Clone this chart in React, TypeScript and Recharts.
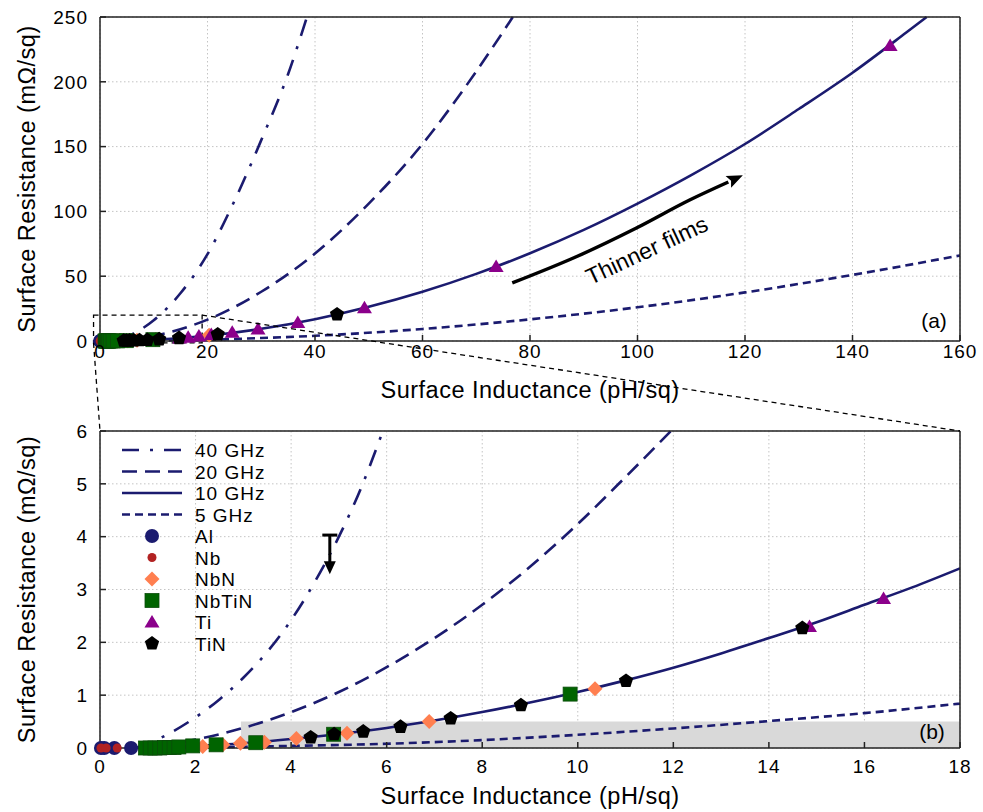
import React from 'react';
import {
  ComposedChart,
  Line,
  Scatter,
  XAxis,
  YAxis,
  CartesianGrid,
  ReferenceArea,
  ReferenceLine,
  ReferenceDot,
} from 'recharts';

const NAVY = '#1b1b6f';
const AXIS = '#222';
const FONT = '"Liberation Sans", Arial, Helvetica, sans-serif';

// model curves, panel (a): L in pH/sq, R in mOhm/sq
const topL40 = [0.8, 5, 10, 15, 20, 25, 30, 35, 38.5];
const topR40 = [0, 3.5, 16, 37, 67, 108, 155, 206, 250];
const topL20 = [0.8, 10, 20, 30, 40, 50, 60, 70, 76.8];
const topR20 = [0, 4, 16.5, 38, 67.5, 106, 152, 208, 250];
const topL10 = [0.7, 10, 20, 30, 40, 50, 60, 70, 80, 90, 100, 110, 120, 130, 140, 150, 153.8];
const topR10 = [0, 1, 4.1, 9.4, 16.8, 26.4, 38, 51.8, 67.7, 85.7, 106, 128, 152, 179, 207, 238, 250];
const topL5 = [0.75, 10, 20, 30, 40, 60, 80, 100, 120, 140, 160];
const topR5 = [0, 0.25, 1, 2.3, 4, 9.3, 16.7, 26, 37.5, 51, 66];

// model curves, panel (b)
const botL40 = [0.75, 1, 1.5, 2, 2.5, 3, 3.5, 4, 4.5, 5, 5.5, 5.92];
const botR40 = [0, 0.08, 0.3, 0.58, 0.92, 1.33, 1.82, 2.42, 3.15, 4.0, 5.0, 6];
const botL20 = [0.75, 1, 2, 3, 4, 5, 6, 7, 8, 9, 10, 11, 11.95];
const botR20 = [0, 0.03, 0.16, 0.38, 0.68, 1.06, 1.53, 2.08, 2.71, 3.43, 4.24, 5.13, 6];
const botL10 = [0.65, 1, 2, 3, 4, 5, 6, 7, 8, 9, 10, 11, 12, 13, 14, 15, 16, 17, 18];
const botR10 = [0, 0.01, 0.04, 0.09, 0.17, 0.265, 0.38, 0.52, 0.68, 0.86, 1.06, 1.28, 1.52, 1.79, 2.08, 2.38, 2.71, 3.04, 3.4];
const botL5 = [0.75, 2, 4, 6, 8, 10, 12, 14, 16, 18];
const botR5 = [0, 0.01, 0.04, 0.08, 0.15, 0.25, 0.37, 0.51, 0.66, 0.84];

// measured films
const alL = [0.02, 0.09, 0.3, 0.65];
const alR = [0, 0, 0, 0];
const nbL = [0.02, 0.13, 0.36];
const nbR = [0, 0, 0];
const nbnL = [2.15, 2.57, 2.94, 3.44, 4.11, 5.17, 6.89, 10.36, 20.3];
const nbnR = [0.03, 0.06, 0.09, 0.11, 0.18, 0.28, 0.5, 1.12, 4.4];
const nbtinL = [0.95, 1.05, 1.15, 1.25, 1.35, 1.45, 1.55, 1.65, 1.94, 2.43, 3.26, 4.89, 9.84];
const nbtinR = [0, 0, 0, 0, 0.01, 0.01, 0.01, 0.02, 0.04, 0.06, 0.1, 0.26, 1.02];
const tiL = [14.85, 16.4, 18.4, 20.7, 24.6, 29.4, 36.8, 49.2, 73.7, 147];
const tiR = [2.3, 2.83, 3.9, 5.0, 6.8, 9.2, 14.3, 25.7, 57.5, 228];
const tinL = [4.41, 4.9, 5.51, 6.29, 7.34, 8.81, 11.01, 14.7, 21.9, 44.1];
const tinR = [0.2, 0.26, 0.31, 0.4, 0.56, 0.81, 1.27, 2.27, 5.1, 20.5];

// "Thinner films" arrow
const arrowL = [76.7, 88.6, 99.8, 109.7, 116.9];
const arrowR = [44.8, 65, 87.2, 108.8, 122.7];

const xTicksTop = [0, 20, 40, 60, 80, 100, 120, 140, 160];
const yTicksTop = [0, 50, 100, 150, 200, 250];
const xTicksBot = [0, 2, 4, 6, 8, 10, 12, 14, 16, 18];
const yTicksBot = [0, 1, 2, 3, 4, 5, 6];

type Pt = { l: number; r: number };
const zip = (ls: number[], rs: number[]): Pt[] => ls.map((l, i) => ({ l, r: rs[i] }));

const curveStyles = [
  { name: '40 GHz', dash: '17 11 3 11' },
  { name: '20 GHz', dash: '15 8' },
  { name: '10 GHz', dash: undefined as string | undefined },
  { name: '5 GHz', dash: '8 5' },
];
const topCurves = [zip(topL40, topR40), zip(topL20, topR20), zip(topL10, topR10), zip(topL5, topR5)];
const botCurves = [zip(botL40, botR40), zip(botL20, botR20), zip(botL10, botR10), zip(botL5, botR5)];

const materials = [
  { name: 'Al', kind: 'circle', color: NAVY, data: zip(alL, alR) },
  { name: 'Nb', kind: 'dot', color: '#b22222', data: zip(nbL, nbR) },
  { name: 'NbN', kind: 'diamond', color: '#ff7f50', data: zip(nbnL, nbnR) },
  { name: 'NbTiN', kind: 'square', color: '#006400', data: zip(nbtinL, nbtinR) },
  { name: 'Ti', kind: 'triangle', color: '#8b008b', data: zip(tiL, tiR) },
  { name: 'TiN', kind: 'pentagon', color: '#000000', data: zip(tinL, tinR) },
];

function marker(kind: string, color: string, cx: number, cy: number) {
  switch (kind) {
    case 'circle':
      return <circle cx={cx} cy={cy} r={7} fill={color} />;
    case 'dot':
      return <circle cx={cx} cy={cy} r={4.5} fill={color} />;
    case 'diamond':
      return (
        <polygon
          points={`${cx},${cy - 7.5} ${cx + 7.5},${cy} ${cx},${cy + 7.5} ${cx - 7.5},${cy}`}
          fill={color}
        />
      );
    case 'square':
      return <rect x={cx - 7} y={cy - 7} width={14} height={14} fill={color} stroke="#0a4d0a" strokeWidth={0.8} />;
    case 'triangle':
      return <polygon points={`${cx},${cy - 7} ${cx + 7.5},${cy + 5.5} ${cx - 7.5},${cy + 5.5}`} fill={color} />;
    default: {
      const pts = [0, 1, 2, 3, 4]
        .map((i) => {
          const a = ((-90 + i * 72) * Math.PI) / 180;
          return `${cx + 7.5 * Math.cos(a)},${cy + 7.5 * Math.sin(a)}`;
        })
        .join(' ');
      return <polygon points={pts} fill={color} />;
    }
  }
}

const tickStyle = { fontSize: 19, fill: '#000', letterSpacing: 1 };
const titleStyle = { fontSize: 23.5, fill: '#000', letterSpacing: 0.5 };

type PanelProps = {
  height: number;
  top: number;
  xAxisHeight: number;
  xTickMargin: number;
  titleOffset: number;
  xDomain: [number, number];
  yDomain: [number, number];
  xTicks: number[];
  yTicks: number[];
  curves: Pt[][];
  keep: (p: Pt) => boolean;
  before?: React.ReactNode;
  children?: React.ReactNode;
};

function Panel(p: PanelProps) {
  return (
    <ComposedChart width={983} height={p.height} margin={{ top: p.top, right: 22, bottom: 0, left: 0 }}>
      {p.before}
      <CartesianGrid stroke="#c4c4c4" strokeDasharray="1.5 2.5" />
      <XAxis
        dataKey="l"
        type="number"
        domain={p.xDomain}
        ticks={p.xTicks}
        interval={0}
        height={p.xAxisHeight}
        stroke={AXIS}
        strokeWidth={1.5}
        tickSize={-6}
        tickMargin={p.xTickMargin}
        tick={tickStyle}
        label={{ value: 'Surface Inductance (pH/sq)', position: 'insideBottom', offset: p.titleOffset, ...titleStyle }}
      />
      <YAxis
        type="number"
        domain={p.yDomain}
        ticks={p.yTicks}
        interval={0}
        width={100}
        stroke={AXIS}
        strokeWidth={1.5}
        tickSize={-6}
        tickMargin={18}
        tick={tickStyle}
        label={{
          value: 'Surface Resistance (m\u03a9/sq)',
          angle: -90,
          position: 'insideLeft',
          offset: 27,
          style: { textAnchor: 'middle' },
          ...titleStyle,
        }}
      />
      <XAxis
        xAxisId="mirror"
        orientation="top"
        type="number"
        domain={p.xDomain}
        ticks={p.xTicks}
        interval={0}
        height={1}
        tick={false}
        tickSize={-6}
        stroke={AXIS}
        strokeWidth={1.5}
        allowDataOverflow
      />
      <YAxis
        yAxisId="mirror"
        orientation="right"
        type="number"
        domain={p.yDomain}
        ticks={p.yTicks}
        interval={0}
        width={1}
        tick={false}
        tickSize={-6}
        stroke={AXIS}
        strokeWidth={1.5}
        allowDataOverflow
      />
      {p.curves.map((c, i) => (
        <Line
          key={curveStyles[i].name}
          data={c}
          dataKey="r"
          type="monotone"
          stroke={NAVY}
          strokeWidth={2.6}
          strokeDasharray={curveStyles[i].dash}
          dot={false}
          activeDot={false}
          isAnimationActive={false}
        />
      ))}
      {p.children}
      {materials.map((m) => (
        <Scatter
          key={m.name}
          data={m.data.filter(p.keep)}
          dataKey="r"
          shape={(s: any) => marker(m.kind, m.color, s.cx, s.cy)}
          isAnimationActive={false}
        />
      ))}
    </ComposedChart>
  );
}

const limitShape = (s: any) => {
  const { x1, y1, x2, y2 } = s;
  return (
    <g>
      <line x1={x1} y1={y1} x2={x2} y2={y2 - 10} stroke="#000" strokeWidth={3} />
      <line x1={x1 - 7.5} y1={y1} x2={x1 + 7.5} y2={y1} stroke="#000" strokeWidth={3} />
      <polygon points={`${x2 - 6},${y2 - 13} ${x2 + 6},${y2 - 13} ${x2},${y2}`} fill="#000" />
    </g>
  );
};

const arrowHead = (s: any) => {
  if (s.index !== arrowL.length - 1) return <g key={`a${s.index}`} />;
  const { cx, cy } = s;
  return (
    <polygon
      key="head"
      transform={`rotate(-25 ${cx} ${cy})`}
      points={`${cx + 16},${cy} ${cx},${cy - 6.5} ${cx + 3},${cy} ${cx},${cy + 6.5}`}
      fill="#000"
    />
  );
};

// page layout of panel (a) plot area, used for the zoom connectors
const topX = (l: number) => 100 + (l / 160) * 860;
const topY = (r: number) => 17 + (1 - r / 250) * 324;

function Overlay() {
  const rowY = (i: number) => 450 + i * 21.5;
  return (
    <svg
      width={983}
      height={812}
      style={{ position: 'absolute', left: 0, top: 0, pointerEvents: 'none', fontFamily: FONT }}
    >
      <line x1={topX(-1.2)} y1={topY(-1.5)} x2={100} y2={431} stroke="#000" strokeWidth={1.3} strokeDasharray="5 4" />
      <line x1={topX(19)} y1={topY(20)} x2={960} y2={431} stroke="#000" strokeWidth={1.3} strokeDasharray="5 4" />
      <text x={934} y={327.5} fontSize={21} textAnchor="middle">(a)</text>
      <text x={932} y={739} fontSize={21} textAnchor="middle">(b)</text>
      {curveStyles.map((c, i) => (
        <g key={c.name}>
          <line x1={122} y1={rowY(i)} x2={182} y2={rowY(i)} stroke={NAVY} strokeWidth={2.6} strokeDasharray={c.dash} />
          <text x={195} y={rowY(i) + 7} fontSize={19} letterSpacing={1}>{c.name}</text>
        </g>
      ))}
      {materials.map((m, j) => {
        const y = rowY(j + curveStyles.length);
        return (
          <g key={m.name}>
            {marker(m.kind, m.color, 152, y)}
            <text x={195} y={y + 7} fontSize={19} letterSpacing={1}>{m.name}</text>
          </g>
        );
      })}
    </svg>
  );
}

export default function App() {
  return (
    <div style={{ position: 'absolute', left: 0, top: 0, width: 983, height: 812, background: '#fff', fontFamily: FONT }}>
      <div style={{ position: 'absolute', left: 0, top: 0 }}>
        <Panel
          height={410}
          top={16}
          xAxisHeight={69}
          xTickMargin={10}
          titleOffset={12}
          xDomain={[0, 160]}
          yDomain={[0, 250]}
          xTicks={xTicksTop}
          yTicks={yTicksTop}
          curves={topCurves}
          keep={() => true}
        >
          <ReferenceArea
            x1={-1.2}
            x2={19}
            y1={-1.5}
            y2={20}
            ifOverflow="visible"
            fill="none"
            stroke="#000"
            strokeWidth={1.3}
            strokeDasharray="5 4"
          />
          <Line
            data={zip(arrowL, arrowR)}
            dataKey="r"
            type="monotone"
            stroke="#000"
            strokeWidth={3.5}
            dot={arrowHead}
            activeDot={false}
            isAnimationActive={false}
          />
          <ReferenceDot
            x={101.7}
            y={70.2}
            r={0}
            fill="none"
            stroke="none"
            label={{ value: 'Thinner films', position: 'center', angle: -25, fontSize: 23, fill: '#000' }}
          />
        </Panel>
      </div>
      <div style={{ position: 'absolute', left: 0, top: 410 }}>
        <Panel
          height={402}
          top={20}
          xAxisHeight={64}
          xTickMargin={18}
          titleOffset={8}
          xDomain={[0, 18]}
          yDomain={[0, 6]}
          xTicks={xTicksBot}
          yTicks={yTicksBot}
          curves={botCurves}
          keep={(q) => q.l <= 18.2 && q.r <= 6}
          before={<ReferenceArea x1={2.95} x2={18} y1={0} y2={0.5} fill="#d9d9d9" fillOpacity={1} stroke="none" />}
        >
          <ReferenceLine segment={[{ x: 4.81, y: 4.03 }, { x: 4.81, y: 3.29 }]} shape={limitShape} />
        </Panel>
      </div>
      <Overlay />
    </div>
  );
}
